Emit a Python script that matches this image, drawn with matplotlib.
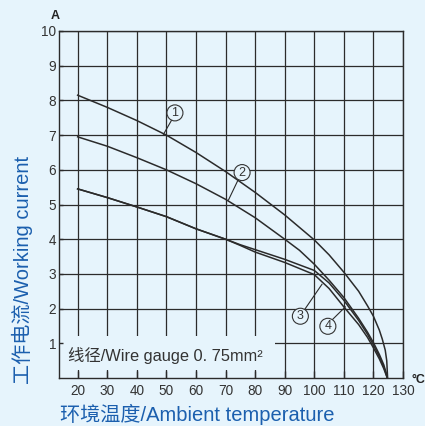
import numpy as np
import matplotlib
matplotlib.use("Agg")
import matplotlib.pyplot as plt
from matplotlib.patches import Rectangle

# readings (temperature in °C, current in A)
t1 = [20, 30, 40, 50, 60, 70, 80, 90, 100, 105, 110, 115, 118, 120, 122, 123, 124, 124.5, 124.8]
i1 = [8.15, 7.8, 7.42, 7.0, 6.5, 5.95, 5.35, 4.7, 3.98, 3.55, 3.05, 2.5, 2.08, 1.78, 1.38, 1.12, 0.8, 0.5, 0.0]

t2 = [20, 30, 40, 50, 60, 70, 80, 90, 95, 100, 105, 110, 115, 118, 120, 122, 123.5, 124.3, 124.7]
i2 = [6.95, 6.68, 6.35, 6.0, 5.6, 5.15, 4.62, 4.0, 3.68, 3.28, 2.82, 2.32, 1.72, 1.32, 1.02, 0.68, 0.38, 0.15, 0.0]

t3 = [20, 30, 40, 50, 60, 70, 75, 80, 90, 100, 105, 110, 115, 118, 120, 122, 123.5, 124.2, 124.7]
i3 = [5.45, 5.2, 4.93, 4.65, 4.3, 4.0, 3.84, 3.7, 3.42, 3.1, 2.74, 2.24, 1.66, 1.26, 0.95, 0.62, 0.32, 0.14, 0.0]

t4 = [20, 30, 40, 50, 60, 70, 75, 80, 90, 100, 105, 110, 115, 118, 120, 122, 123.5, 124.2, 124.7]
i4 = [5.45, 5.2, 4.93, 4.65, 4.3, 4.0, 3.82, 3.63, 3.33, 2.98, 2.58, 2.05, 1.54, 1.17, 0.87, 0.55, 0.27, 0.11, 0.0]

curve_labels = ["1", "2", "3", "4"]
label_xy = [(52.9, 7.64), (75.6, 5.92), (95.3, 1.78), (104.6, 1.49)]
leader_from = [(51.7, 7.42), (74.2, 5.7), (96.8, 1.98), (106.1, 1.68)]
leader_to = [(49.0, 7.02), (71.0, 5.13), (102.6, 2.7), (110.5, 2.05)]

x_ticks = [20, 30, 40, 50, 60, 70, 80, 90, 100, 110, 120, 130]
y_ticks = [1, 2, 3, 4, 5, 6, 7, 8, 9, 10]

bg = "#e6f4fc"
ink = "#2b2b2b"
blue = "#1b5fae"

plt.rcParams["font.family"] = ["Liberation Sans", "Noto Sans CJK SC", "DejaVu Sans"]

fig = plt.figure(figsize=(4.25, 4.26), dpi=100, facecolor=bg)
ax = fig.add_axes([59 / 425, 48 / 426, 344 / 425, 347 / 426])
ax.set_facecolor(bg)
ax.set_xlim(13.7, 130)
ax.set_ylim(0, 10)

# grid drawn by hand so the wire-gauge box can hide part of it
for x in x_ticks:
    ax.axvline(x, color=ink, lw=0.9, zorder=1)
for y in y_ticks:
    ax.axhline(y, color=ink, lw=0.9, zorder=1)
ax.add_patch(Rectangle((13.7, 0.22), 86.7 - 13.7, 1.2 - 0.22,
                       facecolor=bg, edgecolor="none", zorder=1.5))

for ts, cs in [(t1, i1), (t2, i2), (t3, i3), (t4, i4)]:
    ax.plot(ts, cs, color=ink, lw=1.1, zorder=3)

for lab, xy, p0, p1 in zip(curve_labels, label_xy, leader_from, leader_to):
    ax.text(xy[0], xy[1], lab, ha="center", va="center", fontsize=9, color="#333333", zorder=4,
            bbox=dict(boxstyle="circle,pad=0.16", fc=bg, ec="#333333", lw=0.8))
    ax.plot([p0[0], p1[0]], [p0[1], p1[1]], color=ink, lw=0.8, zorder=3.5)

ax.text(16.8, 0.66, "线径/Wire gauge 0. 75mm²", fontsize=11.8, color="#333333",
        va="center", ha="left", zorder=4)

ax.set_xticks(x_ticks)
ax.set_yticks(y_ticks)
ax.set_xticklabels([str(v) for v in x_ticks], fontsize=9.8, color="#333333")
ax.set_yticklabels([str(v) for v in y_ticks], fontsize=9.8, color="#333333")
ax.tick_params(axis="x", direction="in", length=5, width=1, color=ink, pad=4)
ax.tick_params(axis="y", direction="in", length=3, width=1, color=ink, pad=2)
ax.set_axisbelow(False)
for s in ax.spines.values():
    s.set_color(ink)
    s.set_linewidth(1.0)

fig.text(55 / 425, 1 - 16 / 426, "A", fontsize=9, fontweight="bold", color="#222222",
         ha="center", va="center")
fig.text(412 / 425, 1 - 380 / 426, "°C", fontsize=9, fontweight="bold", color="#222222",
         ha="left", va="center")

fig.text(60 / 425, 1 - 414 / 426, "环境温度/Ambient temperature", fontsize=14.5, color=blue,
         ha="left", va="center")
fig.text(22 / 425, 1 - 384 / 426, "工作电流/Working current", fontsize=14.5, color=blue,
         rotation=90, ha="center", va="bottom")

fig.savefig("out.png", dpi=100, facecolor=bg)
